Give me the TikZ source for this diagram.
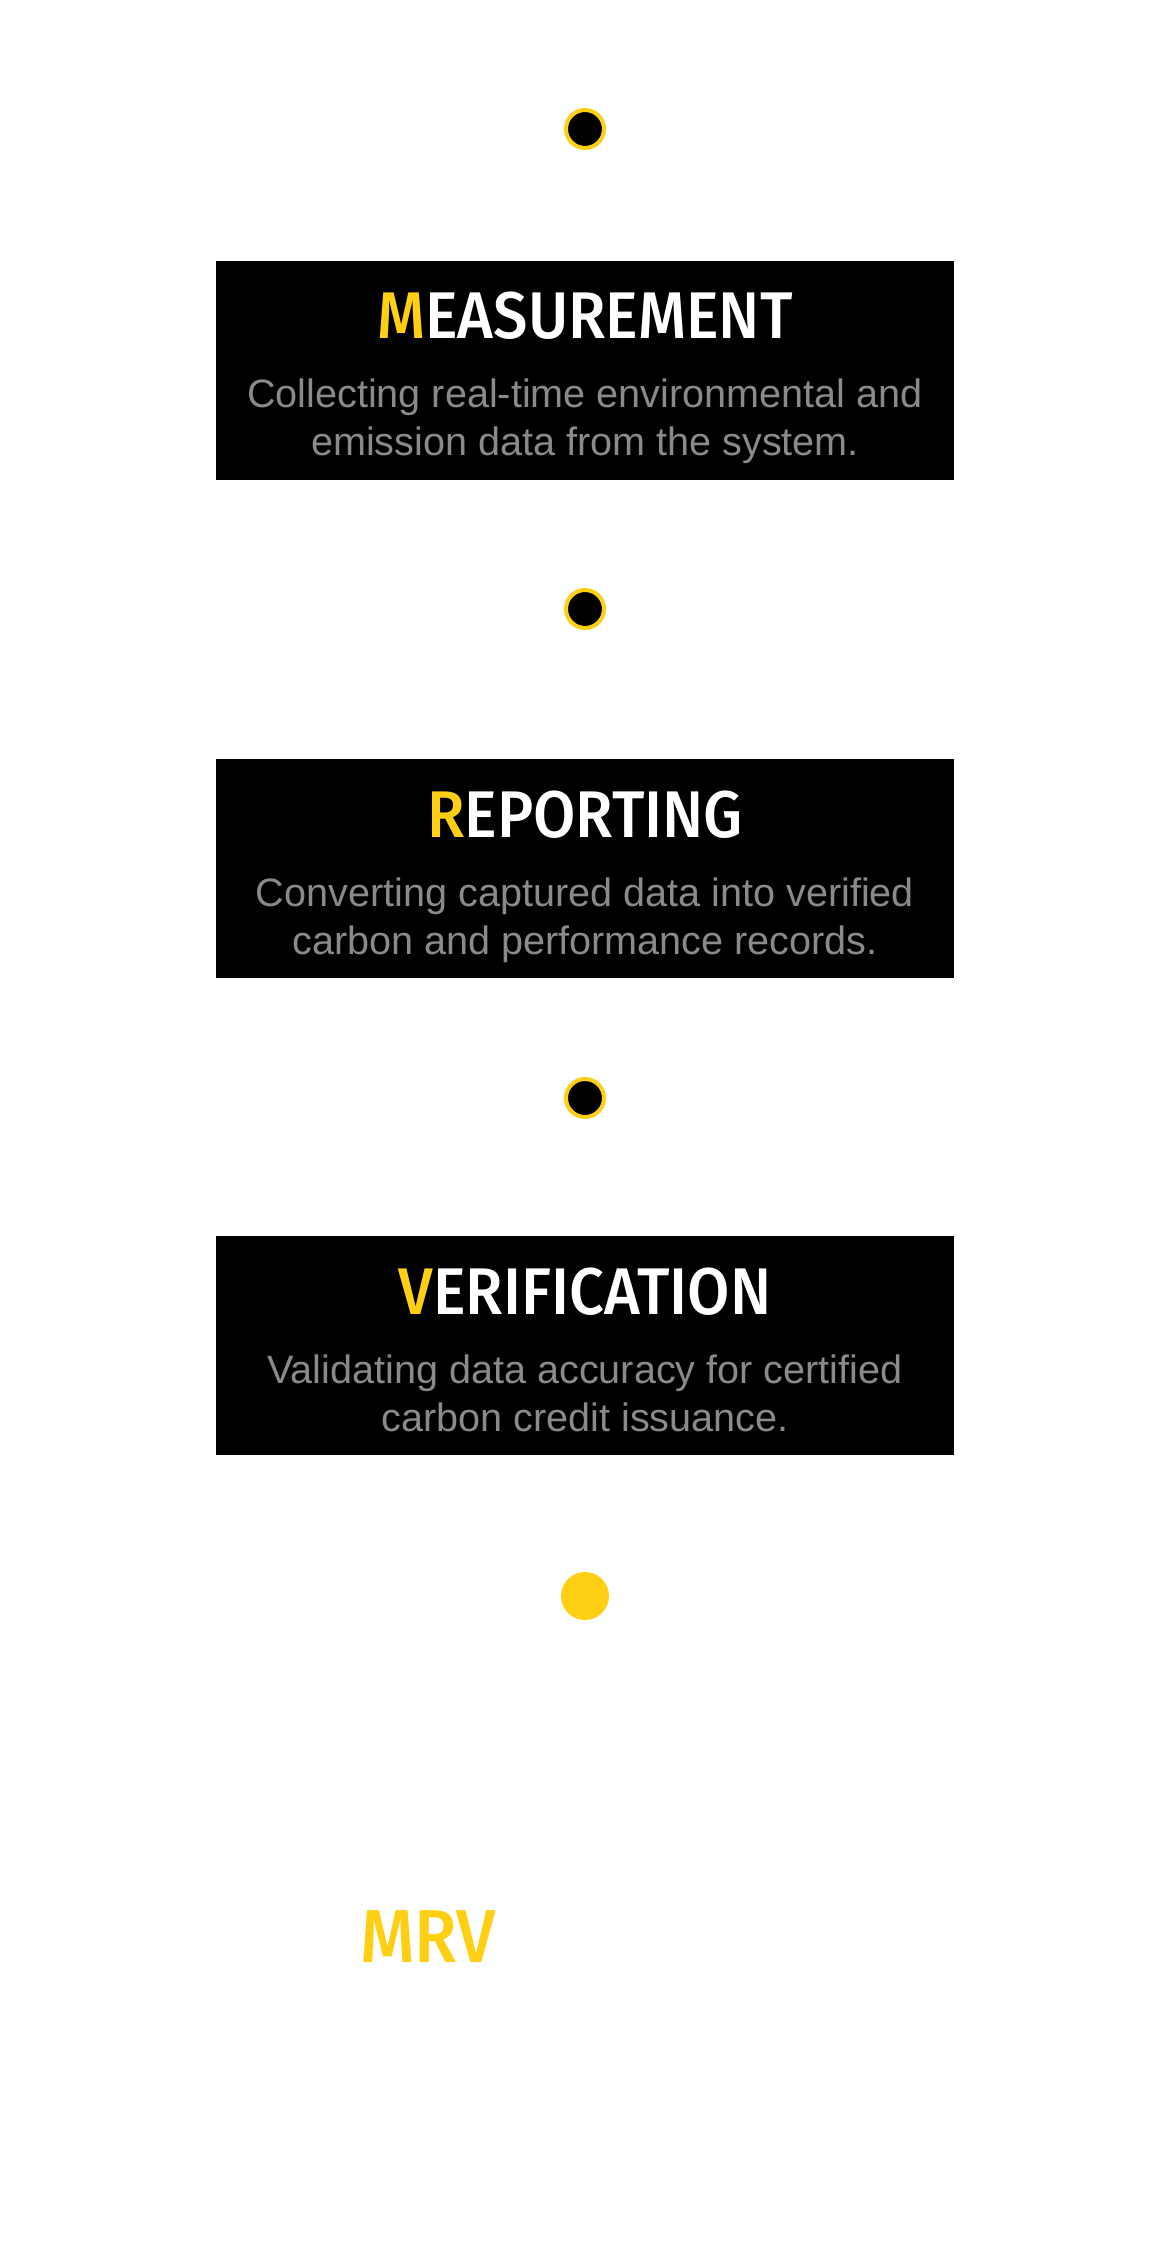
\documentclass[tikz,border=0pt]{standalone}
\usepackage{fontspec}
\setmainfont{Liberation Sans}
\newfontfamily\titlefont{Fira Sans}[UprightFont={* Medium},FakeStretch=0.93]
\definecolor{ylw}{HTML}{FFCF14}
\definecolor{txtgrey}{HTML}{8A8A8A}
\tikzset{
  ringdot/.style={circle,draw=ylw,fill=black,line width=4pt,minimum size=38pt,inner sep=0pt},
  enddot/.style={circle,fill=ylw,minimum size=48pt,inner sep=0pt},
  stagebox/.style={fill=black,draw=none},
  stagetitle/.style={anchor=base,inner sep=0pt,text=white,font=\titlefont\fontsize{66}{70}\selectfont},
  stagetext/.style={anchor=base,inner sep=0pt,text=txtgrey,font=\fontsize{39.6}{48}\selectfont},
  bigtitle/.style={anchor=base west,inner sep=0pt,text=ylw,font=\titlefont\fontsize{75}{80}\selectfont}
}
\begin{document}
\begin{tikzpicture}[x=1pt,y=-1pt]
\useasboundingbox[fill=white] (0,0) rectangle (1170,2247);
% dots
\node[ringdot] (d1) at (585,129) {};
\node[ringdot] (d2) at (585,609) {};
\node[ringdot] (d3) at (585,1098) {};
\node[enddot] (d4) at (585,1596) {};
% boxes
\path[stagebox] (216,261) rectangle (954,480);
\path[stagebox] (216,759) rectangle (954,978);
\path[stagebox] (216,1236) rectangle (954,1455);
% box 1
\node[stagetitle] (t1) at (585,338) {{\color{ylw}M}EASUREMENT};
\node[stagetext] (s1a) at (585,407) {Collecting real-time environmental and};
\node[stagetext] (s1b) at (585,455) {emission data from the system.};
% box 2
\node[stagetitle] (t2) at (585,837) {{\color{ylw}R}EPORTING};
\node[stagetext] (s2a) at (585,906) {Converting captured data into verified};
\node[stagetext] (s2b) at (585,954) {carbon and performance records.};
% box 3
\node[stagetitle] (t3) at (585,1314) {{\color{ylw}V}ERIFICATION};
\node[stagetext] (s3a) at (585,1383) {Validating data accuracy for certified};
\node[stagetext] (s3b) at (585,1431) {carbon credit issuance.};
% MRV
\node[bigtitle] (mrv) at (360,1962) {MRV};
\end{tikzpicture}
\end{document}
